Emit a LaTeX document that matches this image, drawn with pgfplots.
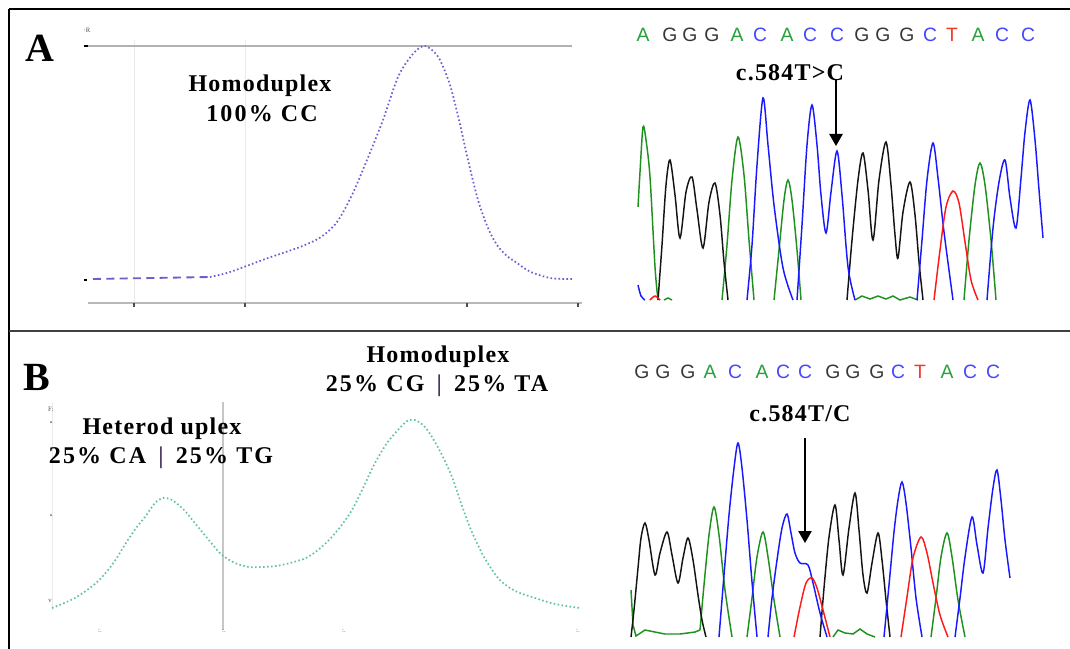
\documentclass[border=0pt]{standalone}
\usepackage{fontspec}
\setmainfont{Liberation Serif}
\newfontfamily\seqfont{Liberation Sans}
\usepackage{pgfplots}
\pgfplotsset{compat=1.18}
\usetikzlibrary{arrows.meta}
\definecolor{meltA}{RGB}{105,95,210}
\definecolor{meltB}{RGB}{95,195,165}
\definecolor{cgreen}{RGB}{30,145,30}
\definecolor{cblue}{RGB}{25,25,255}
\definecolor{cred}{RGB}{255,25,25}
\definecolor{cblack}{RGB}{20,20,20}
\definecolor{sA}{RGB}{40,160,60}
\definecolor{sC}{RGB}{70,70,255}
\definecolor{sG}{RGB}{55,55,55}
\definecolor{sT}{RGB}{240,60,40}
\definecolor{barc}{RGB}{70,50,100}
\pgfplotsset{pix/.style={scale only axis, y dir=reverse, axis lines=none, anchor=north west, clip=true},
  tr/.style={line width=1.1pt, smooth, tension=0.5, mark=none}}
\begin{document}
\begin{tikzpicture}[x=0.75pt,y=-0.75pt]
\path[use as bounding box] (0,0) rectangle (1070,649);
% frame
\draw[line width=1.6pt] (9,9) -- (1070,9);
\draw[line width=1.6pt] (9,9) -- (9,649);
\draw[line width=2pt, black!75] (9,331) -- (1070,331);
% ---------- melt curve A decorations
\draw[black!8] (134,40) -- (134,303);
\draw[black!8] (245,40) -- (245,303);
\draw[gray!60, line width=0.9pt] (88,46) -- (572,46);
\draw[gray!55, line width=0.9pt] (88,303) -- (582,303);
\draw[line width=1.4pt] (84,46) -- (88,46);
\draw[line width=1.2pt] (84,280) -- (87,280);
\foreach \xx in {134,245,467,578} \draw[black!70, line width=1pt] (\xx,303) -- (\xx,307);
\node[font=\fontsize{5}{5}\selectfont, black!70] at (87,30) {·R};
% ---------- melt A
\begin{axis}[pix, at={(80,40)}, width=382.5pt, height=202.5pt, xmin=80, xmax=590, ymin=40, ymax=310]
\addplot[meltA, line width=1.4pt, dash pattern=on 6pt off 4pt] coordinates {(93,279) (210,277)};
\addplot[meltA, line width=1.3pt, dash pattern=on 1.2pt off 1.8pt, smooth] coordinates {
(210,277) (230,272) (268,258) (300,247) (321,237) (337,222) (352,195) (367,160) (383,120) (398,77) (412,55) (423,46) (432,50) (440,60) (450,85) (459,120) (468,160) (478,200) (488,228) (497,245) (507,256) (517,263) (527,270) (536,274) (550,278) (563,279) (572,279)};
\end{axis}
% ---------- melt B decorations
\draw[gray!45, line width=0.9pt] (223,402) -- (223,630);
\draw[black!8] (52,402) -- (52,610);
\foreach \yy in {422,515} \fill[black!60] (51,\yy) circle (1);
\node[font=\fontsize{5}{5}\selectfont, black!70] at (51,409) {F:};
\node[font=\fontsize{5}{5}\selectfont, black!70] at (50,601) {v};
\foreach \xx in {100,224,344,578} \node[font=\fontsize{5}{5}\selectfont, black!70] at (\xx,631) {:.};
% ---------- melt B
\begin{axis}[pix, at={(40,395)}, width=412.5pt, height=183.75pt, xmin=40, xmax=590, ymin=395, ymax=640]
\addplot[meltB, line width=1.3pt, dash pattern=on 1.2pt off 1.8pt, smooth] coordinates {
(52,608) (75,598) (96,583) (112,565) (126,543) (136,528) (145,517) (155,503) (163,498) (172,500) (184,510) (194,522) (203,533) (213,545) (222,555) (235,563) (249,567) (262,567) (276,566) (290,563) (306,558) (318,550) (329,540) (341,526) (352,510) (363,488) (375,463) (387,443) (398,430) (407,421) (415,420) (424,426) (432,437) (442,455) (452,477) (461,503) (471,530) (484,557) (498,578) (510,588) (520,593) (535,598) (551,603) (566,606) (580,608)};
\end{axis}
% ---------- chromatogram A
\begin{axis}[pix, at={(625,60)}, width=326.25pt, height=180.75pt, xmin=625, xmax=1060, ymin=60, ymax=301]
% green
\addplot[cgreen, tr] coordinates {(638,207) (640,172) (643,127) (646,140) (650,177) (655,267) (658,300)};
\addplot[cgreen, tr] coordinates {(722,300) (727,245) (732,180) (738,137) (744,175) (749,240) (754,300)};
\addplot[cgreen, tr] coordinates {(774,300) (779,250) (784,200) (788,180) (792,200) (797,250) (801,300)};
\addplot[cgreen, line width=1.1pt] coordinates {(855,300) (862,296) (870,299) (878,296) (886,299) (893,296) (900,300) (910,297) (918,300)};
\addplot[cgreen, line width=1.1pt] coordinates {(664,300) (668,298) (672,300)};
\addplot[cgreen, tr] coordinates {(964,300) (969,240) (975,185) (980,163) (985,185) (991,240) (996,300)};
% black
\addplot[cblack, tr] coordinates {(658,300) (662,245) (666,185) (670,160) (675,195) (680,238) (686,192) (692,177) (697,210) (703,248) (709,202) (715,183) (720,215) (724,262) (728,300)};
\addplot[cblack, tr] coordinates {(847,300) (852,240) (858,180) (863,153) (868,190) (873,240) (879,180) (886,142) (891,185) (895,235) (898,258) (903,212) (910,182) (915,215) (919,262) (923,300)};
% blue
\addplot[cblue, tr] coordinates {(638,285) (641,296) (645,300)};
\addplot[cblue, tr] coordinates {(747,300) (752,245) (757,165) (763,98) (768,145) (774,205) (783,268) (793,300)};
\addplot[cblue, tr] coordinates {(797,300) (802,225) (807,145) (812,105) (817,145) (821,195) (826,233) (831,192) (837,151) (842,195) (848,267) (855,300)};
\addplot[cblue, tr] coordinates {(917,300) (922,240) (927,180) (933,143) (938,178) (944,232) (953,300)};
\addplot[cblue, tr] coordinates {(987,300) (993,228) (999,182) (1005,160) (1010,198) (1016,228) (1021,178) (1025,132) (1030,100) (1035,140) (1039,190) (1043,238)};
% red
\addplot[cred, tr] coordinates {(650,300) (655,296) (660,300)};
\addplot[cred, tr] coordinates {(934,300) (940,250) (946,207) (953,191) (959,203) (965,242) (971,280) (978,300)};
\end{axis}
% ---------- chromatogram B
\begin{axis}[pix, at={(625,430)}, width=326.25pt, height=156pt, xmin=625, xmax=1060, ymin=430, ymax=638]
% green
\addplot[cgreen, line width=1.1pt] coordinates {(631,590) (633,625) (636,636) (645,630) (655,632) (665,634) (680,634) (695,632) (700,630)};
\addplot[cgreen, tr] coordinates {(700,630) (704,585) (709,535) (714,507) (719,535) (725,590) (732,637)};
\addplot[cgreen, tr] coordinates {(747,637) (752,598) (757,557) (763,532) (768,557) (774,600) (780,637)};
\addplot[cgreen, line width=1.1pt] coordinates {(833,637) (838,630) (845,633) (853,634) (860,629) (867,634) (875,637)};
\addplot[cgreen, tr] coordinates {(931,637) (936,598) (941,557) (947,533) (952,557) (958,600) (965,637)};
% black
\addplot[cblack, tr] coordinates {(631,637) (634,610) (638,568) (641,538) (645,523) (649,540) (655,575) (660,553) (667,532) (672,555) (678,583) (683,558) (688,538) (693,560) (698,595) (702,620) (706,637)};
\addplot[cblack, tr] coordinates {(820,637) (824,588) (829,537) (835,505) (839,540) (843,575) (849,528) (855,493) (859,530) (863,575) (867,593) (872,563) (878,533) (882,560) (886,600) (890,637)};
% blue
\addplot[cblue, tr] coordinates {(719,637) (724,575) (729,515) (734,468) (738,443) (742,468) (747,520) (752,582) (757,637)};
\addplot[cblue, tr] coordinates {(768,637) (772,598) (777,560) (782,528) (787,514) (791,533) (795,553) (800,563) (808,565) (813,583) (820,613) (827,637)};
\addplot[cblue, tr] coordinates {(884,637) (889,585) (894,532) (898,500) (902,482) (906,503) (911,548) (916,598) (922,637)};
\addplot[cblue, tr] coordinates {(955,637) (960,598) (965,557) (972,517) (977,545) (983,573) (988,528) (993,488) (997,470) (1001,500) (1005,540) (1010,578)};
% red
\addplot[cred, tr] coordinates {(794,637) (800,607) (806,583) (812,578) (817,588) (823,610) (830,637)};
\addplot[cred, tr] coordinates {(901,637) (907,597) (913,558) (921,537) (927,553) (933,583) (940,615) (948,637)};
\end{axis}
% ---------- texts
\tikzset{lab/.style={font=\bfseries\fontsize{18}{20}\selectfont\addfontfeature{LetterSpace=5}, inner sep=0pt},
  labw/.style={font=\bfseries\fontsize{18}{20}\selectfont\addfontfeature{LetterSpace=9}, inner sep=0pt}}
\node[font=\bfseries\fontsize{30}{30}\selectfont, inner sep=0pt] at (40,48) {A};
\node[font=\bfseries\fontsize{30}{30}\selectfont, inner sep=0pt] at (37,377) {B};
\node[lab] at (260,86) {Homoduplex};
\node[labw] at (262,114) {100\% CC};
\node[lab] at (438,357) {Homoduplex};
\node[labw] at (437,386) {25\% CG \,\textcolor{barc}{|}\, 25\% TA};
\node[lab] at (162,429) {Heterod uplex};
\node[labw] at (161,458) {25\% CA \,\textcolor{barc}{|}\, 25\% TG};
\node[lab] at (790,73) {c.584T>C};
\node[lab] at (800,414) {c.584T/C};
\draw[line width=1.2pt, -{Triangle[width=10pt,length=9pt]}] (836,80) -- (836,146);
\draw[line width=1.2pt, -{Triangle[width=10pt,length=9pt]}] (805,438) -- (805,543);
% sequence letters
\foreach \xx/\ll/\cc in {643/A/sA,670/G/sG,690/G/sG,712/G/sG,737/A/sA,760/C/sC,787/A/sA,810/C/sC,837/C/sC,862/G/sG,883/G/sG,907/G/sG,930/C/sC,952/T/sT,978/A/sA,1002/C/sC,1028/C/sC}
  \node[font=\seqfont\fontsize{14.5}{15}\selectfont, text=\cc, inner sep=0pt] at (\xx,35) {\ll};
\foreach \xx/\ll/\cc in {642/G/sG,663/G/sG,688/G/sG,710/A/sA,735/C/sC,762/A/sA,783/C/sC,805/C/sC,833/G/sG,853/G/sG,877/G/sG,898/C/sC,920/T/sT,947/A/sA,970/C/sC,993/C/sC}
  \node[font=\seqfont\fontsize{14.5}{15}\selectfont, text=\cc, inner sep=0pt] at (\xx,372) {\ll};
\end{tikzpicture}
\end{document}
